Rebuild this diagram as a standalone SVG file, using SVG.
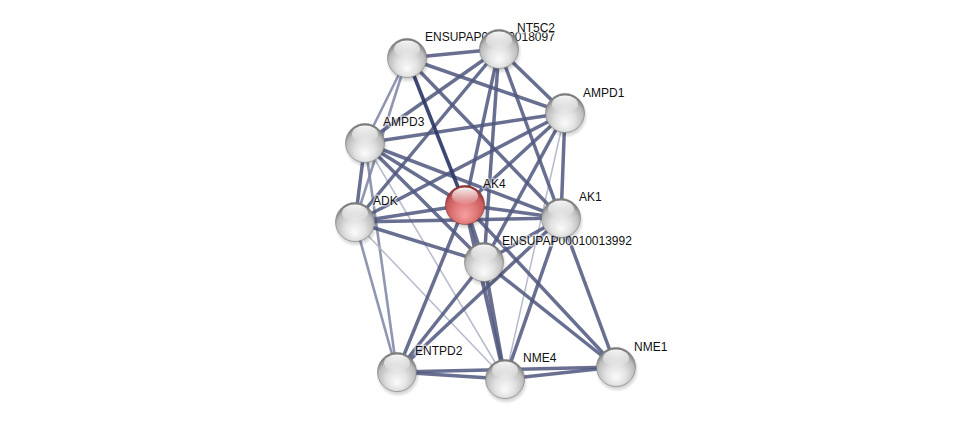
<svg xmlns="http://www.w3.org/2000/svg" width="975" height="425" viewBox="0 0 975 425">
<defs>
<radialGradient id="gw" cx="50%" cy="62%" r="58%" fx="50%" fy="78%">
<stop offset="0" stop-color="#fbfbfb"/>
<stop offset="0.45" stop-color="#e2e2e2"/>
<stop offset="0.82" stop-color="#bcbcbc"/>
<stop offset="1" stop-color="#7c7c7c"/>
</radialGradient>
<radialGradient id="gr" cx="50%" cy="62%" r="58%" fx="50%" fy="78%">
<stop offset="0" stop-color="#f7a0a0"/>
<stop offset="0.45" stop-color="#e27c7c"/>
<stop offset="0.82" stop-color="#c95c5c"/>
<stop offset="1" stop-color="#8e3434"/>
</radialGradient>
<linearGradient id="hl" x1="0" y1="0" x2="0" y2="1">
<stop offset="0" stop-color="#ffffff" stop-opacity="0.95"/>
<stop offset="1" stop-color="#ffffff" stop-opacity="0.05"/>
</linearGradient>
<radialGradient id="sh" cx="50%" cy="50%" r="50%">
<stop offset="0.7" stop-color="#000" stop-opacity="0.25"/>
<stop offset="1" stop-color="#000" stop-opacity="0"/>
</radialGradient>
</defs>
<style>
.e{fill:none;stroke:#4f577f;stroke-opacity:0.86;stroke-width:3.5;stroke-linecap:butt}
.d{stroke:#2e3868;stroke-opacity:0.92;stroke-width:3.6}
.m{stroke:#7d84a5;stroke-opacity:0.85;stroke-width:2.6}
.l{stroke:#aeb3c8;stroke-opacity:0.9;stroke-width:1.5}
.s{fill:url(#sh)}
.w{fill:url(#gw);stroke:#7e7e7e;stroke-width:0.6}
.r{fill:url(#gr);stroke:#833030;stroke-width:0.6}
.h{fill:url(#hl)}
text{font-family:"Liberation Sans",Arial,sans-serif;font-size:12px;fill:#111;stroke:#fff;stroke-width:3;stroke-opacity:0.55;paint-order:stroke;stroke-linejoin:round}
</style>
<rect width="975" height="425" fill="#ffffff"/>
<g id="edges">
<line class="e m" x1="407" y1="58" x2="365" y2="143"/>
<line class="e m" x1="407" y1="58" x2="355" y2="222"/>
<line class="e m" x1="355" y1="222" x2="397" y2="372"/>
<line class="e m" x1="365" y1="143" x2="397" y2="372"/>
<line class="e l" x1="355" y1="222" x2="505" y2="379"/>
<line class="e l" x1="365" y1="143" x2="505" y2="379"/>
<line class="e l" x1="565" y1="113" x2="505" y2="379"/>
<line class="e" x1="407" y1="58" x2="499" y2="49"/>
<line class="e" x1="407" y1="58" x2="565" y2="113"/>
<line class="e" x1="407" y1="58" x2="561" y2="218"/>
<line class="e" x1="499" y1="49" x2="565" y2="113"/>
<line class="e" x1="499" y1="49" x2="365" y2="143"/>
<line class="e" x1="499" y1="49" x2="355" y2="222"/>
<line class="e" x1="499" y1="49" x2="465" y2="205"/>
<line class="e" x1="499" y1="49" x2="484" y2="262"/>
<line class="e" x1="499" y1="49" x2="561" y2="218"/>
<line class="e" x1="565" y1="113" x2="365" y2="143"/>
<line class="e" x1="565" y1="113" x2="355" y2="222"/>
<line class="e" x1="565" y1="113" x2="465" y2="205"/>
<line class="e" x1="565" y1="113" x2="484" y2="262"/>
<line class="e" x1="565" y1="113" x2="561" y2="218"/>
<line class="e" x1="365" y1="143" x2="355" y2="222"/>
<line class="e" x1="365" y1="143" x2="465" y2="205"/>
<line class="e" x1="365" y1="143" x2="561" y2="218"/>
<line class="e" x1="365" y1="143" x2="484" y2="262"/>
<line class="e" x1="355" y1="222" x2="465" y2="205"/>
<line class="e" x1="355" y1="222" x2="561" y2="218"/>
<line class="e" x1="355" y1="222" x2="484" y2="262"/>
<line class="e" x1="465" y1="205" x2="561" y2="218"/>
<line class="e" x1="465" y1="205" x2="484" y2="262" style="stroke-width:4"/>
<line class="e" x1="465" y1="205" x2="397" y2="372"/>
<line class="e" x1="465" y1="205" x2="505" y2="379" style="stroke-width:4"/>
<line class="e" x1="465" y1="205" x2="616" y2="367"/>
<line class="e" x1="561" y1="218" x2="484" y2="262"/>
<line class="e" x1="561" y1="218" x2="397" y2="372"/>
<line class="e" x1="561" y1="218" x2="505" y2="379"/>
<line class="e" x1="561" y1="218" x2="616" y2="367"/>
<line class="e" x1="484" y1="262" x2="397" y2="372"/>
<line class="e" x1="484" y1="262" x2="505" y2="379" style="stroke-width:4"/>
<line class="e" x1="484" y1="262" x2="616" y2="367"/>
<line class="e" x1="397" y1="372" x2="505" y2="379"/>
<line class="e" x1="397" y1="372" x2="616" y2="367"/>
<line class="e" x1="505" y1="379" x2="616" y2="367"/>
<line class="e d" x1="407" y1="58" x2="465" y2="205"/>
</g>
<g id="ENSUPAP00010018097">
<circle class="s" cx="408" cy="61" r="22"/>
<circle class="w" cx="407" cy="58" r="19.5"/>
<ellipse class="h" cx="407" cy="49" rx="13" ry="8.5"/>
<text x="425" y="41">ENSUPAP00010018097</text>
</g>
<g id="AMPD3">
<circle class="s" cx="366" cy="146" r="22"/>
<circle class="w" cx="365" cy="143" r="19.5"/>
<ellipse class="h" cx="365" cy="134" rx="13" ry="8.5"/>
<text x="383" y="126">AMPD3</text>
</g>
<g id="ADK">
<circle class="s" cx="356" cy="225" r="22"/>
<circle class="w" cx="355" cy="222" r="19.5"/>
<ellipse class="h" cx="355" cy="213" rx="13" ry="8.5"/>
<text x="373" y="205">ADK</text>
</g>
<g id="AK4">
<circle class="s" cx="466" cy="208" r="22"/>
<circle class="r" cx="465" cy="205" r="19.5"/>
<ellipse class="h" cx="465" cy="196" rx="13" ry="8.5"/>
<text x="483" y="188">AK4</text>
</g>
<g id="ENSUPAP00010013992">
<circle class="s" cx="485" cy="265" r="22"/>
<circle class="w" cx="484" cy="262" r="19.5"/>
<ellipse class="h" cx="484" cy="253" rx="13" ry="8.5"/>
<text x="502" y="245">ENSUPAP00010013992</text>
</g>
<g id="AK1">
<circle class="s" cx="562" cy="221" r="22"/>
<circle class="w" cx="561" cy="218" r="19.5"/>
<ellipse class="h" cx="561" cy="209" rx="13" ry="8.5"/>
<text x="579" y="201">AK1</text>
</g>
<g id="AMPD1">
<circle class="s" cx="566" cy="116" r="22"/>
<circle class="w" cx="565" cy="113" r="19.5"/>
<ellipse class="h" cx="565" cy="104" rx="13" ry="8.5"/>
<text x="583" y="97">AMPD1</text>
</g>
<g id="NT5C2">
<circle class="s" cx="500" cy="52" r="22"/>
<circle class="w" cx="499" cy="49" r="19.5"/>
<ellipse class="h" cx="499" cy="40" rx="13" ry="8.5"/>
<text x="517" y="32">NT5C2</text>
</g>
<g id="ENTPD2">
<circle class="s" cx="398" cy="375" r="22"/>
<circle class="w" cx="397" cy="372" r="19.5"/>
<ellipse class="h" cx="397" cy="363" rx="13" ry="8.5"/>
<text x="415" y="355">ENTPD2</text>
</g>
<g id="NME4">
<circle class="s" cx="506" cy="382" r="22"/>
<circle class="w" cx="505" cy="379" r="19.5"/>
<ellipse class="h" cx="505" cy="370" rx="13" ry="8.5"/>
<text x="523" y="362">NME4</text>
</g>
<g id="NME1">
<circle class="s" cx="617" cy="370" r="22"/>
<circle class="w" cx="616" cy="367" r="19.5"/>
<ellipse class="h" cx="616" cy="358" rx="13" ry="8.5"/>
<text x="634" y="351">NME1</text>
</g>
</svg>
